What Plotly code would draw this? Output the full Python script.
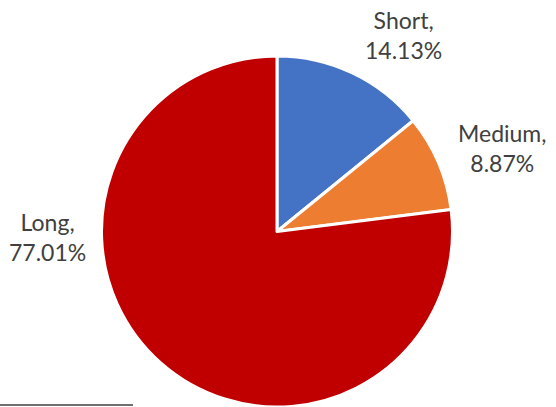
import plotly.graph_objects as go

# data
labels = ['Short', 'Medium', 'Long']
shares = [14.13, 8.87, 77.01]
colors = ['#4472C4', '#ED7D31', '#C00000']

# label anchor spots (paper fractions) for the outside labels
label_x = [0.725, 0.904, 0.086]
label_y = [0.915, 0.637, 0.418]

W, H = 556, 407

pie = go.Pie(
        labels=labels,
        values=shares,
        sort=False,
        direction='clockwise',
        rotation=0,
        marker=dict(colors=colors, line=dict(color='white', width=3)),
        textinfo='none',
        hoverinfo='label+percent',
        showlegend=False,
        domain=dict(x=[100 / W, 454 / W], y=[0, 1 - 56 / H])
        )

fig = go.Figure(data=[pie])

annotations = []
for i in range(len(labels)):
        annotations.append(dict(
                x=label_x[i], y=label_y[i], xref='paper', yref='paper',
                xanchor='center', yanchor='middle', showarrow=False,
                text=f'{labels[i]},<br>{shares[i]:.2f}%',
                font=dict(family='Lato', size=23, color='#404040'),
                align='center'
                ))

fig.update_layout(
        width=W, height=H,
        margin=dict(l=0, r=0, t=0, b=0),
        paper_bgcolor='white',
        plot_bgcolor='white',
        annotations=annotations,
        shapes=[dict(type='line', xref='paper', yref='paper',
                     x0=0, x1=133 / W, y0=1 - 405 / H, y1=1 - 405 / H,
                     line=dict(color='#404040', width=1.3))]
        )

# drop the browser's default body margin so the figure sits at the page corner
fig.write_html('out.html', config={'displayModeBar': False},
               post_script="document.body.style.margin='0';")
